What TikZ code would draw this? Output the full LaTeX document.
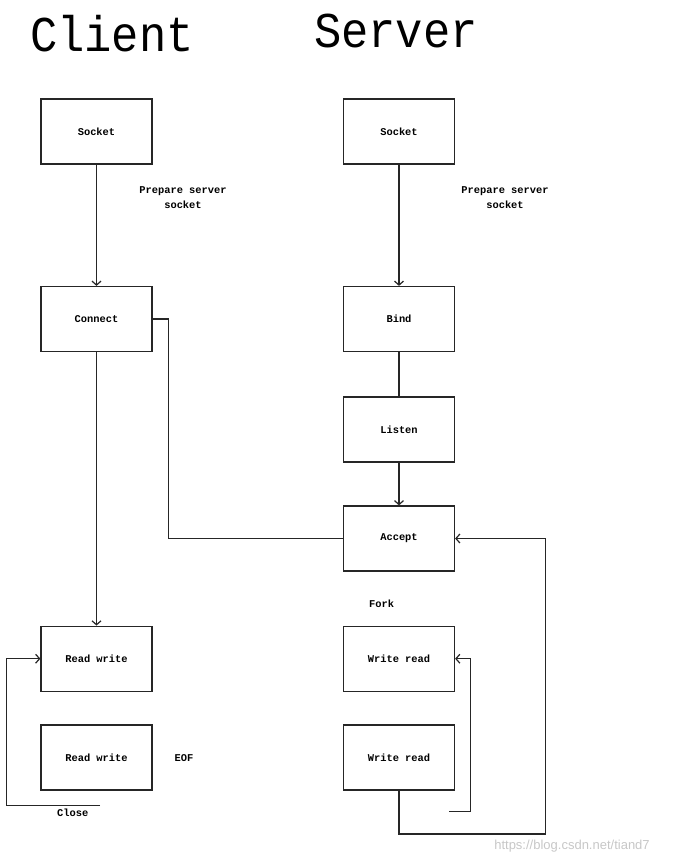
\documentclass[tikz,border=0pt]{standalone}
\usepackage{fontspec}
\usetikzlibrary{arrows.meta}
\newfontfamily\boxfont{Liberation Mono}
\newfontfamily\wmfont{Liberation Sans}
\begin{document}
\begin{tikzpicture}[x=1pt,y=-1pt,
  line width=1.2pt,
  stepbox/.style={draw=black!85,minimum width=111pt,minimum height=65pt,inner sep=0pt,font=\boxfont\bfseries\fontsize{10.4}{12}\selectfont},
  lbl/.style={font=\boxfont\bfseries\fontsize{10.4}{15}\selectfont,align=center,inner sep=0pt},
  ttl/.style={font=\boxfont\fontsize{45.5}{45}\selectfont,anchor=base,inner sep=0pt,yscale=1.1},
  conn/.style={draw=black!85},
  arr/.style={draw=black!85,-{Straight Barb[length=4pt,width=9pt]}}]
\useasboundingbox (0,0) rectangle (676,864);
\node[ttl] (tc) at (112,52) {Client};
\node[ttl] (tsv) at (396,48) {Server};
\node[stepbox] (cs) at (96.5,131.5) {Socket};
\node[stepbox] (cc) at (96.5,319) {Connect};
\node[stepbox] (crw1) at (96.5,658.7) {Read write};
\node[stepbox] (crw2) at (96.5,757.5) {Read write};
\node[stepbox] (ss) at (399,131.5) {Socket};
\node[stepbox] (sb) at (399,319) {Bind};
\node[stepbox] (sl) at (399,429.5) {Listen};
\node[stepbox] (sa) at (399,538.5) {Accept};
\node[stepbox] (swr1) at (399,658.7) {Write read};
\node[stepbox] (swr2) at (399,757.5) {Write read};
\node[lbl] (p1) at (183,198) {Prepare server\\socket};
\node[lbl] (p2) at (505,198) {Prepare server\\socket};
\node[lbl] (fork) at (381.7,603.3) {Fork};
\node[lbl] (eof) at (184,757.7) {EOF};
\node[lbl] (close) at (72.7,812.3) {Close};
\node[font=\wmfont\fontsize{13}{13}\selectfont,text=black!22,inner sep=0pt] (wm) at (572,845.7) {https://blog.csdn.net/tiand7};
\coordinate (cl) at (100,805.7);
\coordinate (wl) at (449,811.7);
\coordinate (acr) at (545.3,834);
\draw[arr] (cs) -- (cc);
\draw[arr] (ss) -- (sb);
\draw[arr] (cc) -- (crw1);
\draw[conn] (sb) -- (sl);
\draw[arr] (sl) -- (sa);
\draw[conn] (cc.east) -- ++(15.7,0) |- (sa.west);
\draw[arr] (swr2.south) |- (acr) |- (sa.east);
\draw[arr] (wl) -- (470.3,811.7) |- (swr1.east);
\draw[arr] (cl) -- (6.7,805.7) |- (crw1.west);
\end{tikzpicture}
\end{document}
